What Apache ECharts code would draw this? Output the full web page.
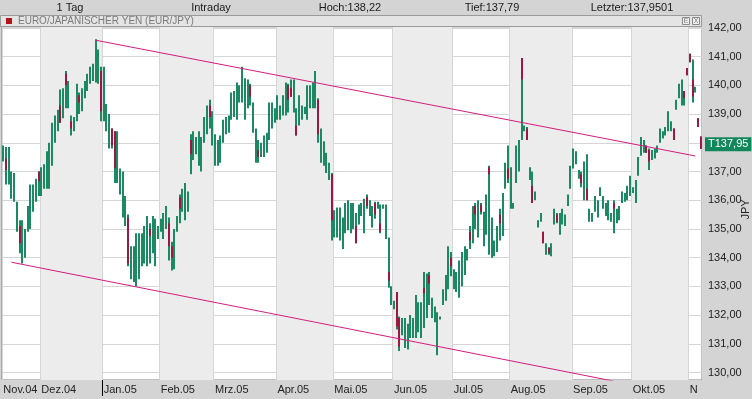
<!DOCTYPE html>
<html>
<head>
<meta charset="utf-8">
<title>EUR/JPY</title>
<style>
html, body { margin: 0; height: 100%; background: #d4d4d4; }
#main { width: 752px; height: 399px; }
</style>
</head>
<body>
<div id="main"></div>
<script src="https://cdn.jsdelivr.net/npm/echarts@6/dist/echarts.min.js"></script>
<script>
// EUR/JPY daily bars, weekdays 11.11.2004 - 07.11.2005
var highs = [
  137.90,137.85,137.85,137.00,136.95,135.95,135.30,135.30,135.00,135.80,
  136.55,136.55,136.75,137.00,137.15,137.25,137.70,138.00,138.70,138.95,
  139.15,139.85,139.90,140.50,140.15,138.95,138.90,140.05,139.75,139.90,
  140.15,140.40,140.65,140.75,141.60,141.25,140.65,140.65,139.35,139.00,
  138.50,138.40,138.40,137.10,137.00,136.15,135.50,134.40,134.40,134.85,
  134.85,134.85,135.10,135.45,135.20,135.45,135.35,135.10,135.35,135.55,
  135.80,135.40,134.55,135.00,135.45,136.20,136.40,136.60,136.30,138.30,
  138.40,138.20,138.40,138.20,138.90,139.30,139.50,139.10,138.30,138.10,
  138.25,138.80,138.90,138.95,139.75,139.80,140.10,140.00,140.65,140.25,
  140.20,140.05,139.40,138.50,138.10,138.00,138.25,138.35,139.40,139.40,
  139.20,139.65,139.30,139.65,140.10,140.05,140.20,140.20,139.20,139.65,
  139.30,139.25,140.00,140.00,140.10,140.50,139.55,138.50,138.05,137.65,
  137.30,136.95,135.65,135.75,135.75,135.40,135.90,136.00,135.90,135.90,
  135.55,135.85,135.90,136.05,136.20,136.00,135.80,135.95,135.95,135.85,
  135.85,135.85,134.70,133.00,132.50,132.80,131.95,131.90,131.90,131.70,
  132.00,131.90,132.70,132.45,132.45,133.50,133.45,133.50,132.60,132.30,
  132.10,131.95,132.90,133.40,134.40,134.20,133.60,133.50,133.90,134.20,
  134.40,134.30,135.10,135.80,135.90,136.00,135.90,135.60,136.20,137.20,
  135.40,134.60,135.10,135.70,136.25,137.30,137.90,137.15,135.90,137.90,
  138.10,140.95,138.60,138.55,137.15,137.00,136.30,135.30,135.55,134.90,
  134.50,134.35,134.50,135.70,135.55,135.55,135.70,135.50,136.20,137.20,
  137.80,137.70,137.05,137.00,137.35,137.60,135.70,135.55,136.15,136.00,
  136.45,136.15,135.90,136.00,135.55,136.00,135.70,135.80,136.30,136.25,
  136.50,136.85,136.45,136.70,137.50,138.20,138.10,137.90,137.80,137.75,
  137.80,137.90,138.50,138.40,138.55,139.10,138.75,138.50,139.50,140.05,
  140.20,139.80,140.60,141.10,140.90,139.95,138.85,138.22
];
var lows = [
  137.35,136.55,136.55,136.05,135.95,134.90,134.15,133.80,134.00,134.90,
  135.00,135.60,135.95,136.15,136.15,136.40,136.40,136.40,137.20,138.00,
  138.40,138.70,138.85,139.20,139.20,138.25,138.40,138.75,139.00,139.10,
  139.55,139.80,140.05,140.15,140.10,140.05,138.75,138.75,138.40,137.80,
  137.80,136.60,136.60,136.20,135.40,135.10,133.70,133.25,133.15,133.00,
  133.25,133.70,133.80,133.70,133.80,134.15,133.70,134.65,134.90,134.65,
  135.00,133.90,133.55,133.60,134.90,135.20,135.60,135.30,135.60,136.90,
  137.40,137.60,137.20,137.00,138.00,138.30,138.50,137.90,137.20,137.20,
  137.30,138.00,138.30,138.35,138.80,138.90,138.80,139.40,139.40,138.80,
  139.20,139.30,138.35,137.30,137.30,137.50,137.50,137.65,138.10,138.50,
  138.70,138.80,138.80,138.95,138.95,139.05,139.60,139.05,138.25,138.60,
  138.80,139.00,138.80,139.20,139.20,139.20,138.00,137.30,137.20,136.95,
  136.70,134.60,134.70,134.70,134.60,134.30,134.85,134.95,134.85,135.00,
  134.50,135.15,135.45,134.85,135.70,135.45,135.05,135.35,135.70,134.85,
  135.70,134.65,132.95,132.35,132.20,131.50,130.75,131.30,130.85,130.80,
  131.20,131.20,131.20,131.40,131.20,131.55,131.90,132.35,131.90,131.75,
  130.60,131.85,132.35,132.50,132.90,133.35,132.90,132.80,132.60,133.00,
  133.40,133.90,134.30,134.50,135.00,134.70,135.50,134.40,134.80,134.10,
  134.00,134.05,134.20,134.60,134.75,136.40,136.60,135.70,135.70,136.60,
  137.00,138.10,138.40,138.10,136.70,135.90,136.00,135.05,135.25,134.50,
  134.10,134.10,134.05,135.15,135.20,134.80,135.15,135.10,135.80,136.40,
  137.10,137.25,136.75,136.45,136.00,136.00,135.25,135.25,135.60,135.40,
  136.15,135.70,135.45,135.30,135.25,134.85,135.20,135.30,135.90,135.95,
  136.00,136.15,136.25,135.90,136.85,137.55,137.65,137.65,137.05,137.40,
  137.45,137.65,138.00,138.15,138.25,138.40,138.40,138.10,139.15,139.55,
  139.30,139.30,140.35,140.80,139.40,139.75,138.55,137.79
];
// bars with a red part: [index, top, bottom]
var redParts = [
  [1,137.45,137.05],[6,135.10,134.50],[13,137.00,136.65],[21,139.30,138.70],
  [23,140.40,140.00],[25,138.75,138.50],[28,139.65,139.40],[36,140.50,139.10],
  [40,138.50,137.90],[41,138.40,137.10],[46,135.40,133.80],[54,135.00,134.75],
  [61,135.20,134.40],[62,134.40,134.00],[65,136.10,135.70],[69,138.10,137.60],
  [76,139.30,138.90],[91,140.00,139.60],[94,137.75,137.50],[105,140.00,139.50],
  [106,139.90,139.60],[108,138.60,138.25],[116,139.50,138.30],[121,136.90,135.30],
  [130,135.10,134.50],[134,136.10,135.80],[137,135.90,135.50],[139,135.20,134.90],
  [142,133.50,133.20],[145,132.80,131.60],[146,131.90,130.90],[155,132.95,132.75],
  [157,133.40,133.10],[165,134.00,133.70],[172,134.90,134.60],[174,135.80,135.50],
  [176,135.85,135.60],[179,137.15,136.90],[183,135.50,135.20],[186,137.10,136.75],
  [191,140.95,140.20],[193,138.50,138.10],[195,136.50,135.90],[199,134.90,134.50],
  [201,134.35,134.15],[204,135.50,135.25],[213,136.90,136.60],[215,136.40,136.00],
  [225,135.90,135.70],[237,137.90,137.65],[238,137.75,137.35],[247,138.50,138.10],
  [251,139.80,139.55],[252,140.60,140.35],[253,141.10,140.80],[254,140.20,139.60],
  [256,138.85,138.55],[257,138.22,137.79]
];
var monthLabels = ['Nov.04','Dez.04','Jan.05','Feb.05','Mrz.05','Apr.05','Mai.05',
                   'Jun.05','Jul.05','Aug.05','Sep.05','Okt.05','N'];
// trend lines: [category index, price]
var upperTrend = [[34, 141.57], [255, 137.54]];
var lowerTrend = [[3, 133.84], [240, 129.42]];
var lastPrice = 137.95;
var hoch = '138,22', tief = '137,79', letzter = '137,9501';
var unitName = 'JPY';

var FONT = '"Liberation Sans", Arial, sans-serif';
var GREEN = '#1b8a62', RED = '#9c1742', PINK = '#d41c7c';
var YMIN = 129.74, YMAX = 142.03;

// weekday categories
var dates = [];
var d = new Date(Date.UTC(2004, 10, 11));
while (dates.length < highs.length) {
    var wd = d.getUTCDay();
    if (wd !== 0 && wd !== 6) dates.push(d.toISOString().slice(0, 10));
    d.setUTCDate(d.getUTCDate() + 1);
}
var labelAt = {};
var m = 0;
for (var i = 0; i < dates.length; i++) {
    if (i === 0 || dates[i].slice(5, 7) !== dates[i - 1].slice(5, 7)) {
        labelAt[i] = monthLabels[m++];
    }
}
var janIndex = dates.indexOf('2005-01-03');
function isMonthStart(idx) { return labelAt[idx] !== undefined; }

var barData = highs.map(function (h, i) { return [i, lows[i], h]; });
var redMap = {};
redParts.forEach(function (r) { redMap[r[0]] = r; });

function renderBar(params, api) {
    var i = api.value(0);
    var lo = api.coord([i, api.value(1)]);
    var hi = api.coord([i, api.value(2)]);
    var x = Math.round(lo[0]);
    var kids = [{
        type: 'line',
        shape: {x1: x, y1: lo[1], x2: x, y2: hi[1]},
        style: {stroke: GREEN, lineWidth: 2}
    }];
    var r = redMap[params.dataIndex];
    if (r) {
        var a = api.coord([i, r[1]]), b = api.coord([i, r[2]]);
        kids.push({
            type: 'line',
            shape: {x1: x, y1: a[1], x2: x, y2: b[1]},
            style: {stroke: RED, lineWidth: 2}
        });
    }
    return {type: 'group', children: kids};
}

function headText(txt, x) {
    return {type: 'text', x: x, y: 8, style: {text: txt, font: '11px ' + FONT, fill: '#1a1a1a',
        textAlign: 'center', textVerticalAlign: 'middle'}};
}

var chart = echarts.init(document.getElementById('main'));
var option = {
    backgroundColor: '#d4d4d4',
    animation: false,
    textStyle: {fontFamily: FONT},
    grid: {left: 2, right: 50, top: 27, bottom: 19, show: true,
           containLabel: false, outerBoundsMode: 'none',
           backgroundColor: '#ffffff', borderColor: '#808080', borderWidth: 1},
    xAxis: {
        type: 'category',
        data: dates,
        axisLine: {show: false},
        axisTick: {show: false},
        axisLabel: {interval: isMonthStart, align: 'left', margin: 4, color: '#222', fontSize: 11,
                    formatter: function (v, idx) { return labelAt[idx] || ''; }},
        splitLine: {show: true, interval: isMonthStart, lineStyle: {color: '#d6d6d6'}},
        // first area (Nov.04) white, then grey every other month
        splitArea: {show: true, interval: isMonthStart,
                    areaStyle: {color: ['rgba(255,255,255,0)', '#ececec']}}
    },
    yAxis: {
        type: 'value',
        position: 'right',
        min: YMIN,
        max: YMAX,
        splitNumber: 12,
        axisLine: {show: false},
        axisTick: {show: false},
        axisLabel: {showMinLabel: false, showMaxLabel: false, margin: 6, color: '#222', fontSize: 11,
                    formatter: function (v) { return v.toFixed(2).replace('.', ','); }},
        splitLine: {lineStyle: {color: '#d6d6d6'}}
    },
    series: [
        {
            type: 'custom',
            renderItem: renderBar,
            data: barData,
            encode: {x: 0, y: [1, 2]},
            z: 3
        },
        {
            type: 'line',
            data: upperTrend,
            symbol: 'rect',
            symbolSize: 6,
            itemStyle: {color: PINK},
            lineStyle: {color: PINK, width: 1},
            z: 4,
            markLine: {
                silent: true,
                symbol: 'none',
                lineStyle: {color: 'transparent', width: 0},
                data: [{yAxis: lastPrice}],
                label: {
                    position: 'end',
                    distance: 3,
                    formatter: 'T' + lastPrice.toFixed(2).replace('.', ','),
                    color: '#fff',
                    fontSize: 11,
                    backgroundColor: '#12875b',
                    padding: [2, 3, 1, 3]
                }
            }
        },
        {
            type: 'line',
            data: [
                {value: lowerTrend[0]},
                {value: lowerTrend[1], symbol: 'none'}
            ],
            symbol: 'rect',
            symbolSize: 6,
            itemStyle: {color: PINK},
            lineStyle: {color: PINK, width: 1},
            z: 4
        }
    ],
    graphic: [
        headText('1 Tag', 70),
        headText('Intraday', 211),
        headText('Hoch:' + hoch, 350),
        headText('Tief:' + tief, 492),
        headText('Letzter:' + letzter, 632),
        {type: 'rect', shape: {x: 0.5, y: 15.5, width: 701, height: 11},
         style: {fill: '#e4e4e4', stroke: '#9a9a9a', lineWidth: 1}},
        {type: 'rect', shape: {x: 6, y: 18, width: 6, height: 6}, style: {fill: '#b3141c'}},
        {type: 'text', x: 18, y: 21.5, style: {text: 'EURO/JAPANISCHER YEN (EUR/JPY)',
            font: '10px ' + FONT, fill: '#7a7a7a', textVerticalAlign: 'middle'}},
        {type: 'rect', shape: {x: 682.5, y: 17.5, width: 7, height: 7},
         style: {fill: '#f0f0f0', stroke: '#8a8a8a', lineWidth: 1}},
        {type: 'rect', shape: {x: 692.5, y: 17.5, width: 7, height: 7},
         style: {fill: '#f0f0f0', stroke: '#8a8a8a', lineWidth: 1}},
        {type: 'text', x: 686, y: 21.5, style: {text: 'E', font: '7px ' + FONT, fill: '#777',
            textAlign: 'center', textVerticalAlign: 'middle'}},
        {type: 'text', x: 696, y: 21.5, style: {text: 'X', font: '7px ' + FONT, fill: '#777',
            textAlign: 'center', textVerticalAlign: 'middle'}}
    ]
};
chart.setOption(option);

var zr = chart.getZr();
// year separator tick below the axis, at the boundary before the first January bar
var xa = chart.convertToPixel({xAxisIndex: 0}, janIndex - 1);
var xb = chart.convertToPixel({xAxisIndex: 0}, janIndex);
var yb = chart.convertToPixel({yAxisIndex: 0}, YMIN);
var yt = chart.convertToPixel({yAxisIndex: 0}, YMAX);
var tx = Math.round((xa + xb) / 2) + 0.5;
zr.add(new echarts.graphic.Line({
    shape: {x1: tx, y1: yb, x2: tx, y2: yb + 16},
    style: {stroke: '#000', lineWidth: 1},
    z: 100
}));
// unit name along the right edge, reading bottom to top
zr.add(new echarts.graphic.Text({
    x: 746,
    y: (yb + yt) / 2 + 6,
    rotation: Math.PI / 2,
    style: {text: unitName, font: '11px ' + FONT, fill: '#222',
            align: 'center', verticalAlign: 'middle'},
    z: 100
}));
</script>
</body>
</html>
